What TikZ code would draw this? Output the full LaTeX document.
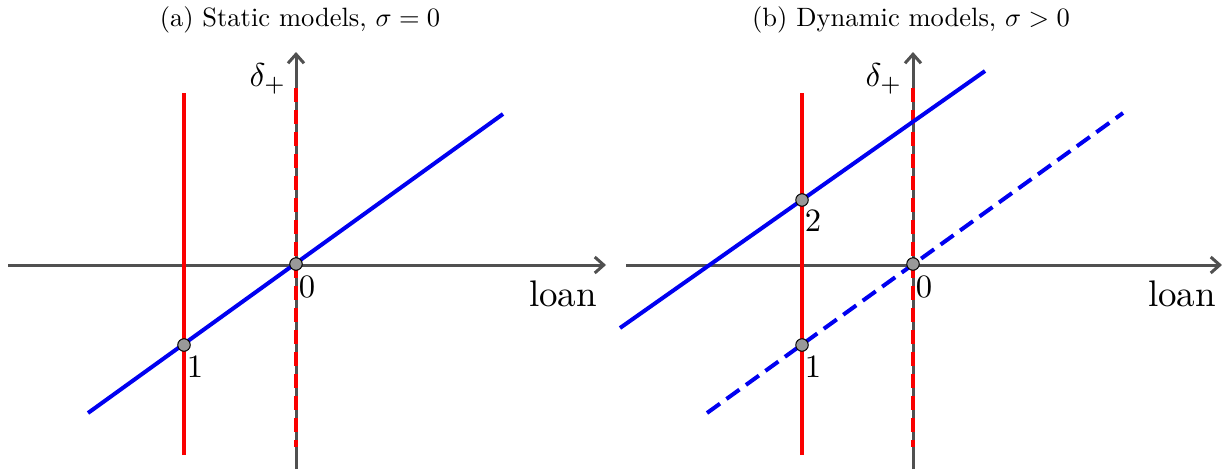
\documentclass[tikz,border=0pt]{standalone}
\usepackage{graphicx}
\usetikzlibrary{arrows.meta}
\definecolor{axisgray}{RGB}{80,80,80}
\definecolor{pblue}{RGB}{0,0,240}
\definecolor{pred}{RGB}{250,0,0}
\newcommand{\numtxt}[1]{\scalebox{3.26}{#1}}
\newcommand{\loantxt}{\scalebox{3.7}{loan}}
\newcommand{\deltatxt}{\scalebox{3.3}{$\delta_+$}}
\newcommand{\ttltxt}[1]{\scalebox{2.65}{#1}}
\tikzset{
  axisline/.style={axisgray, line width=3pt, -{Straight Barb[length=9pt,width=16pt,line width=3pt]}},
  redline/.style={pred, line width=4pt},
  reddash/.style={pred, line width=4pt, dash pattern=on 14pt off 8pt},
  blueline/.style={pblue, line width=4pt},
  bluedash/.style={pblue, line width=4pt, dash pattern=on 16pt off 8pt},
  pt/.style={circle, draw=black, fill=gray!80, line width=1pt, minimum size=12.5pt, inner sep=0pt},
  lbl/.style={inner sep=0pt, font=\fontsize{10}{12}\selectfont}
}
\begin{document}
\begin{tikzpicture}[x=1pt,y=-1pt]
\useasboundingbox (0,0) rectangle (1222,469);
% ---------- panel (a)
\node[lbl] (ta) at (300,20) {\ttltxt{(a) Static models, $\sigma = 0$}};
\coordinate (ax0) at (8,265);
\coordinate (ax1) at (606,265);
\coordinate (ay0) at (296,469);
\coordinate (ay1) at (296,52);
\draw[axisline] (ax0) -- (ax1);
\draw[axisline] (ay0) -- (ay1);
\coordinate (ra0) at (184,455);
\coordinate (ra1) at (184,93);
\coordinate (da0) at (296,447);
\coordinate (da1) at (296,88);
\draw[redline] (ra0) -- (ra1);
\draw[reddash] (da1) -- (da0);
\coordinate (ba0) at (88,413);
\coordinate (ba1) at (503,114);
\draw[blueline] (ba0) -- (ba1);
\node[pt] (pa0) at (296,264) {};
\node[pt] (pa1) at (184,345) {};
\node[lbl] (la0) at (307,287) {\numtxt{0}};
\node[lbl] (la1) at (195,367) {\numtxt{1}};
\node[lbl] (loana) at (563,294) {\loantxt};
\node[lbl] (dela) at (268,79) {\deltatxt};
% ---------- panel (b)
\node[lbl] (tb) at (911,20) {\ttltxt{(b) Dynamic models, $\sigma > 0$}};
\coordinate (bx0) at (626,265);
\coordinate (bx1) at (1222,265);
\coordinate (by0) at (913,469);
\coordinate (by1) at (913,52);
\draw[axisline] (bx0) -- (bx1);
\draw[axisline] (by0) -- (by1);
\coordinate (rb0) at (802,455);
\coordinate (rb1) at (802,93);
\coordinate (db0) at (913,447);
\coordinate (db1) at (913,88);
\draw[redline] (rb0) -- (rb1);
\draw[reddash] (db1) -- (db0);
\coordinate (bs0) at (620,328);
\coordinate (bs1) at (985,71);
\draw[blueline] (bs0) -- (bs1);
\coordinate (bd0) at (707,413);
\coordinate (bd1) at (1123,113);
\draw[bluedash] (bd0) -- (bd1);
\node[pt] (pb0) at (913,264) {};
\node[pt] (pb1) at (802,345) {};
\node[pt] (pb2) at (802,200) {};
\node[lbl] (lb0) at (924,287) {\numtxt{0}};
\node[lbl] (lb1) at (813,367) {\numtxt{1}};
\node[lbl] (lb2) at (813,221) {\numtxt{2}};
\node[lbl] (loanb) at (1182,294) {\loantxt};
\node[lbl] (delb) at (884,79) {\deltatxt};
\end{tikzpicture}
\end{document}
